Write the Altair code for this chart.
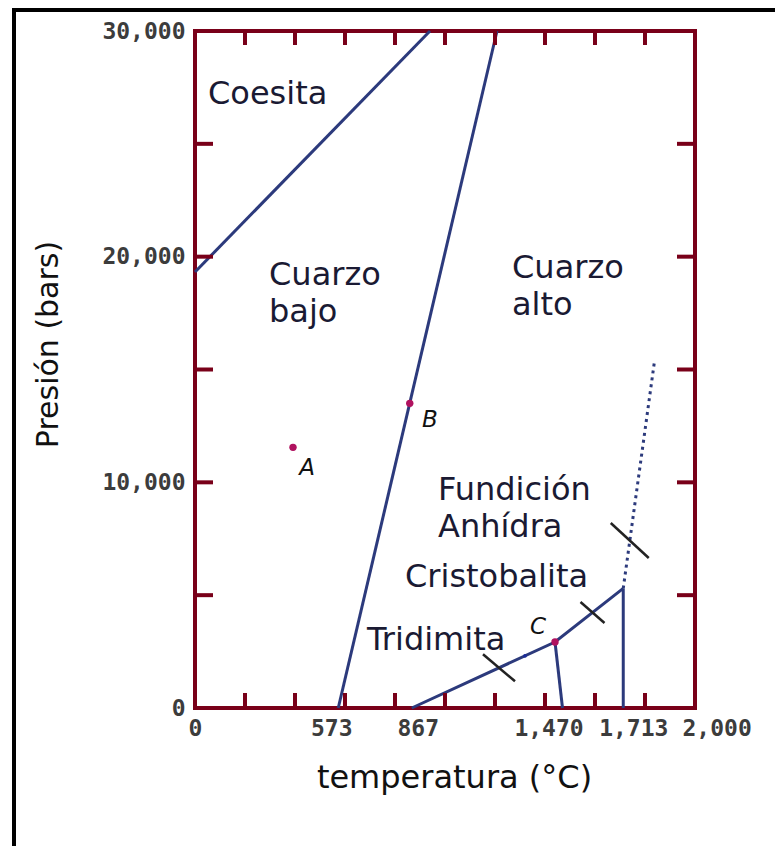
import altair as alt
import pandas as pd

# --- phase boundaries: temperature (°C) and pressure (bars) ---
coesite_T = [0, 940]
coesite_P = [19320, 30000]

quartz_T = [573, 1208]
quartz_P = [0, 30000]

tridymite_T = [867, 1440, 1713]
tridymite_P = [0, 2925, 5300]

cristobalite_T = [1440, 1470]
cristobalite_P = [2925, 0]

melt_T = [1713, 1713]
melt_P = [5300, 0]

melt_dash_T = [1713, 1837]
melt_dash_P = [5300, 15290]

# short crossing strokes on the boundaries
cross_T1 = [1152, 1542, 1663]
cross_P1 = [2379, 4695, 8197]
cross_T2 = [1280, 1638, 1815]
cross_P2 = [1183, 3765, 6647]

# reference points
point_names = ["A", "B", "C"]
point_T = [392, 859, 1440]
point_P = [11550, 13500, 2925]
point_label_T = [448, 940, 1372]
point_label_P = [10634, 12761, 3589]

# field names
field_text = ["Coesita", "Cuarzo", "bajo", "Cuarzo", "alto", "Fundición",
              "Anhídra", "Cristobalita", "Tridimita"]
field_T = [52, 296, 296, 1268, 1268, 972, 972, 840, 688]
field_P = [27228, 19208, 17569, 19518, 17878, 9660, 8020, 5805, 3035]

# axis tick positions
x_label_vals = [0, 573, 867, 1470, 1713, 2000]
y_label_vals = [0, 10000, 20000, 30000]
x_minor = [200, 400, 600, 800, 1000, 1200, 1400, 1600, 1800]
y_minor = [5000, 10000, 15000, 20000, 25000]

W, H = 500, 677
FRAME = "#790019"
NAVY = "#2c3a7c"
TEXT = "#1a1a33"

x_scale = alt.Scale(domain=[0, 2000], nice=False, zero=False)
y_scale = alt.Scale(domain=[0, 30000], nice=False, zero=False)

rows = []
for name, ts, ps in [("coesita", coesite_T, coesite_P),
                     ("cuarzo", quartz_T, quartz_P),
                     ("tridimita", tridymite_T, tridymite_P),
                     ("cristobalita", cristobalite_T, cristobalite_P),
                     ("fusion", melt_T, melt_P)]:
    for i, (t, p) in enumerate(zip(ts, ps)):
        rows.append({"curve": name, "i": i, "T": t, "P": p})
curves = pd.DataFrame(rows)
dash = pd.DataFrame({"T": melt_dash_T, "P": melt_dash_P, "i": [0, 1]})
crosses = pd.DataFrame({"T": cross_T1, "P": cross_P1, "T2": cross_T2, "P2": cross_P2})
points = pd.DataFrame({"name": point_names, "T": point_T, "P": point_P,
                       "lT": point_label_T, "lP": point_label_P})
fields = pd.DataFrame({"text": field_text, "T": field_T, "P": field_P})
xm = pd.DataFrame({"T": x_minor})
ym = pd.DataFrame({"P": y_minor})
one = alt.Data(values=[{"k": 0}])

# crowded temperature labels are nudged apart so they stay readable
x_label_offset = (
    "datum.value == 2000 ? -13 : datum.value == 1713 ? 10 : "
    "datum.value == 1470 ? -14 : datum.value == 573 ? -7 : "
    "datum.value == 867 ? 6 : 0"
)

x_axis = alt.Axis(
    values=x_label_vals, format=",d", title="temperatura (°C)",
    ticks=False, tickSize=0, domain=False, grid=False, labelFlush=False,
    labelOverlap=False,
    labelFont="DejaVu Sans Mono", labelFontSize=23, labelFontWeight="bold",
    labelColor="#3c3c3c", labelPadding=9,
    labelAlign={"expr": "datum.value == 2000 ? 'left' : 'center'"},
    labelOffset={"expr": x_label_offset},
    titleFont="DejaVu Sans", titleFontSize=32, titleFontWeight="normal",
    titleColor="#111111", titleX=259, titleY=54,
)
y_axis = alt.Axis(
    values=y_label_vals, format=",d", title="Presión (bars)",
    ticks=False, tickSize=0, domain=False, grid=False, labelOverlap=False,
    labelFont="DejaVu Sans Mono", labelFontSize=23, labelFontWeight="bold",
    labelColor="#3c3c3c", labelPadding=10,
    titleFont="DejaVu Sans", titleFontSize=30, titleFontWeight="normal",
    titleColor="#111111", titleX=-132, titleY=313,
)

lines = alt.Chart(curves).mark_line(color=NAVY, strokeWidth=3).encode(
    x=alt.X("T:Q", scale=x_scale, axis=x_axis),
    y=alt.Y("P:Q", scale=y_scale, axis=y_axis),
    detail="curve:N",
    order="i:Q",
)

dashed = alt.Chart(dash).mark_line(color=NAVY, strokeWidth=3, strokeDash=[3, 4]).encode(
    x=alt.X("T:Q", scale=x_scale), y=alt.Y("P:Q", scale=y_scale), order="i:Q"
)

cross = alt.Chart(crosses).mark_rule(color="#222222", strokeWidth=2.5).encode(
    x=alt.X("T:Q", scale=x_scale), y=alt.Y("P:Q", scale=y_scale),
    x2="T2:Q", y2="P2:Q",
)

blip = alt.Chart(pd.DataFrame({"T": [1320], "P": [2312]})).mark_circle(
    color="#1a2a9a", size=14, opacity=1
).encode(x=alt.X("T:Q", scale=x_scale), y=alt.Y("P:Q", scale=y_scale))

dots = alt.Chart(points).mark_circle(color="#b0125f", size=55, opacity=1).encode(
    x=alt.X("T:Q", scale=x_scale), y=alt.Y("P:Q", scale=y_scale)
)

dot_labels = alt.Chart(points).mark_text(
    font="DejaVu Sans", fontSize=23, fontStyle="italic", color="#111111",
    align="center", baseline="middle",
).encode(x=alt.X("lT:Q", scale=x_scale), y=alt.Y("lP:Q", scale=y_scale), text="name:N")

field_labels = alt.Chart(fields).mark_text(
    font="DejaVu Sans", fontSize=32, color=TEXT, align="left", baseline="middle",
).encode(x=alt.X("T:Q", scale=x_scale), y=alt.Y("P:Q", scale=y_scale), text="text:N")

# inward ticks on all four sides of the frame
tick_style = dict(color=FRAME, strokeWidth=4, strokeCap="butt")
bottom_ticks = alt.Chart(xm).mark_rule(**tick_style).encode(
    x=alt.X("T:Q", scale=x_scale), y=alt.value(H), y2=alt.value(H - 15))
top_ticks = alt.Chart(xm).mark_rule(**tick_style).encode(
    x=alt.X("T:Q", scale=x_scale), y=alt.value(0), y2=alt.value(14))
left_ticks = alt.Chart(ym).mark_rule(**tick_style).encode(
    y=alt.Y("P:Q", scale=y_scale), x=alt.value(0), x2=alt.value(18))
right_ticks = alt.Chart(ym).mark_rule(**tick_style).encode(
    y=alt.Y("P:Q", scale=y_scale), x=alt.value(W), x2=alt.value(W - 18))

# outer page border (top and left edges)
border_top = alt.Chart(one).mark_rule(color="black", strokeWidth=4, strokeCap="butt").encode(
    x=alt.value(-183), x2=alt.value(600), y=alt.value(-21))
border_left = alt.Chart(one).mark_rule(color="black", strokeWidth=4, strokeCap="butt").encode(
    x=alt.value(-181), y=alt.value(-23), y2=alt.value(830))

chart = alt.layer(
    border_top, border_left,
    lines, dashed, cross, blip, dots, dot_labels, field_labels,
    bottom_ticks, top_ticks, left_ticks, right_ticks,
).properties(
    width=W, height=H,
    autosize=alt.AutoSizeParams(type="none"),
    padding={"left": 195, "top": 31, "right": 80, "bottom": 138},
    background="white",
).configure_view(
    stroke=FRAME, strokeWidth=4
)

chart.save("out.html", embed_options={"renderer": "svg", "actions": False})
